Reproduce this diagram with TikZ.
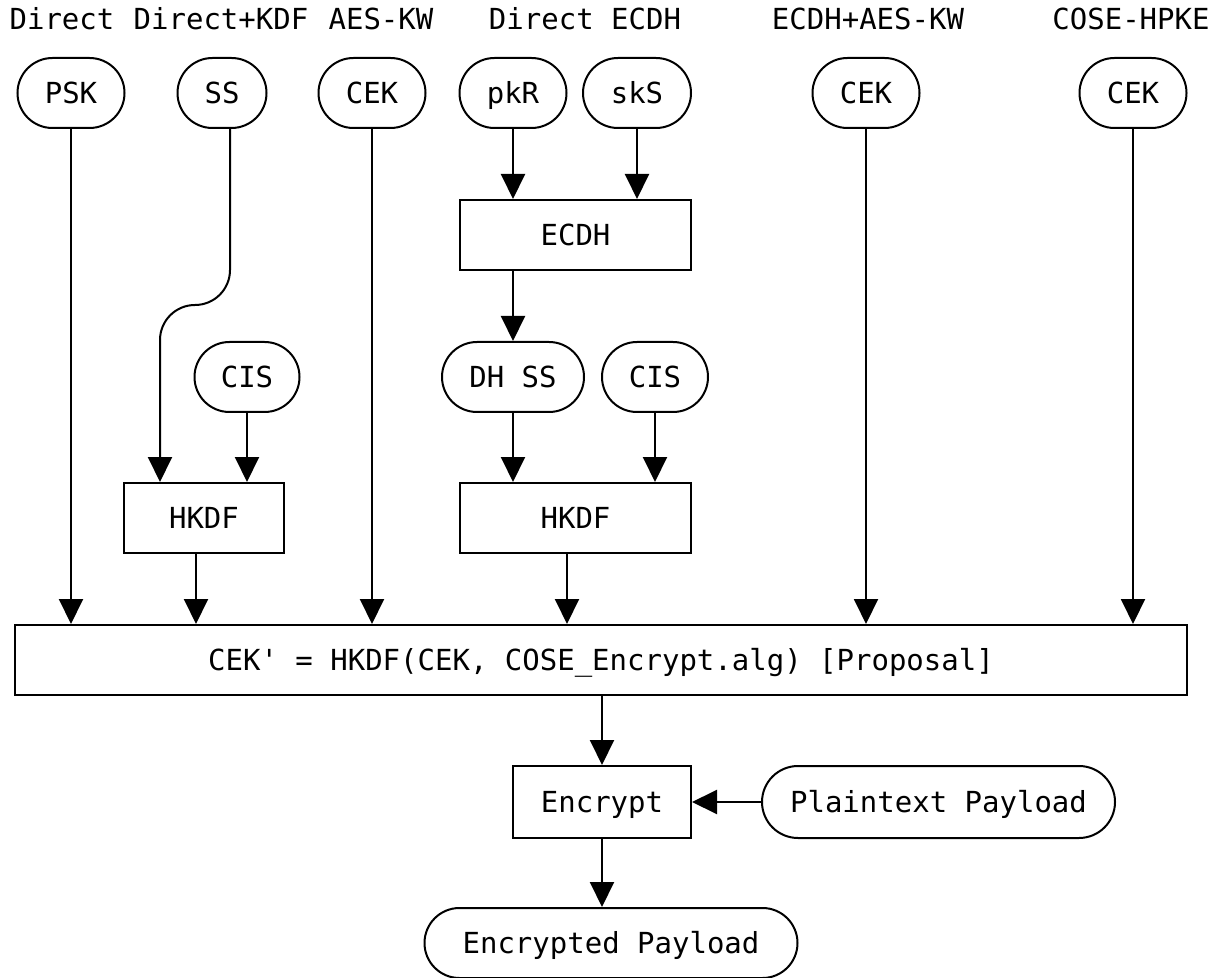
\documentclass[tikz,border=0pt]{standalone}
\usepackage{fontspec}
\setmonofont{DejaVu Sans Mono}
\usetikzlibrary{arrows.meta}

\begin{document}
\begin{tikzpicture}[x=0.5pt,y=-0.5pt,every node/.style={font=\ttfamily\fontsize{14.5}{17}\selectfont}]

\tikzstyle{flow}=[-{Triangle[width=12pt,length=12.5pt]},line width=1pt];
\tikzstyle{token}=[draw,line width=1pt,rounded corners=17.5pt,minimum height=35pt,inner sep=0pt,text height=10.6pt,text depth=0pt];
\tikzstyle{op}=[draw,line width=1pt,minimum height=35pt,inner sep=0pt,text height=10.6pt,text depth=0pt];
\tikzstyle{mode}=[anchor=base,inner sep=0pt];

\useasboundingbox (0,0) rectangle (1215,978);

% mode labels
\node[mode] (m1) at (62,30) {Direct};
\node[mode] (m2) at (221,30) {Direct+KDF};
\node[mode] (m3) at (381,30) {AES-KW};
\node[mode] (m4) at (585,30) {Direct ECDH};
\node[mode] (m5) at (868,30) {ECDH+AES-KW};
\node[mode] (m6) at (1131,30) {COSE-HPKE};

% inputs
\node[token,minimum width=53.5pt] (psk) at (71,93) {PSK};
\node[token,minimum width=44.5pt] (ss) at (222,93) {SS};
\node[token,minimum width=53.5pt] (cekA) at (372,93) {CEK};
\node[token,minimum width=53.5pt] (pkr) at (513,93) {pkR};
\node[token,minimum width=54pt] (sks) at (637,93) {skS};
\node[token,minimum width=53.5pt] (cekB) at (866,93) {CEK};
\node[token,minimum width=53.5pt] (cekC) at (1133,93) {CEK};

\node[op,minimum width=115.5pt] (ecdh) at (575.5,235) {ECDH};
\node[token,minimum width=52.5pt] (cisA) at (247,377) {CIS};
\node[token,minimum width=71pt] (dhss) at (513,377) {DH SS};
\node[token,minimum width=53pt] (cisB) at (655,377) {CIS};
\node[op,minimum width=80pt] (hkdfA) at (204,518) {HKDF};
\node[op,minimum width=115.5pt] (hkdfB) at (575.5,518) {HKDF};

\node[op,minimum width=586pt] (cekp) at (601,660) {CEK' = HKDF(CEK, COSE\_Encrypt.alg) [Proposal]};
\node[op,minimum width=89pt,minimum height=36pt] (enc) at (602,802) {Encrypt};
\node[token,minimum width=176.5pt,minimum height=36pt,rounded corners=18pt] (plain) at (938.5,802) {Plaintext Payload};
\node[token,minimum width=186.5pt] (encp) at (611,943) {Encrypted Payload};

\coordinate (kink) at (160,305);

\draw[flow] (psk.south) -- (psk.south |- cekp.north);
\draw[flow,rounded corners=17.5pt] ([xshift=4pt]ss.south) |- (kink) -- (kink |- hkdfA.north);
\draw[flow] (cekA.south) -- (cekA.south |- cekp.north);
\draw[flow] (pkr.south) -- (pkr.south |- ecdh.north);
\draw[flow] (sks.south) -- (sks.south |- ecdh.north);
\draw[flow] (dhss.north |- ecdh.south) -- (dhss.north);
\draw[flow] (cisA.south) -- (cisA.south |- hkdfA.north);
\draw[flow] (dhss.south) -- (dhss.south |- hkdfB.north);
\draw[flow] (cisB.south) -- (cisB.south |- hkdfB.north);
\draw[flow] ([xshift=-4pt]hkdfA.south) -- ([xshift=-4pt]hkdfA.south |- cekp.north);
\draw[flow] ([xshift=-4.25pt]hkdfB.south) -- ([xshift=-4.25pt]hkdfB.south |- cekp.north);
\draw[flow] (cekB.south) -- (cekB.south |- cekp.north);
\draw[flow] (cekC.south) -- (cekC.south |- cekp.north);

\draw[flow] (enc.north |- cekp.south) -- (enc.north);
\draw[flow] (plain.west) -- (enc.east);
\draw[flow] (enc.south) -- (enc.south |- encp.north);
\end{tikzpicture}
\end{document}
